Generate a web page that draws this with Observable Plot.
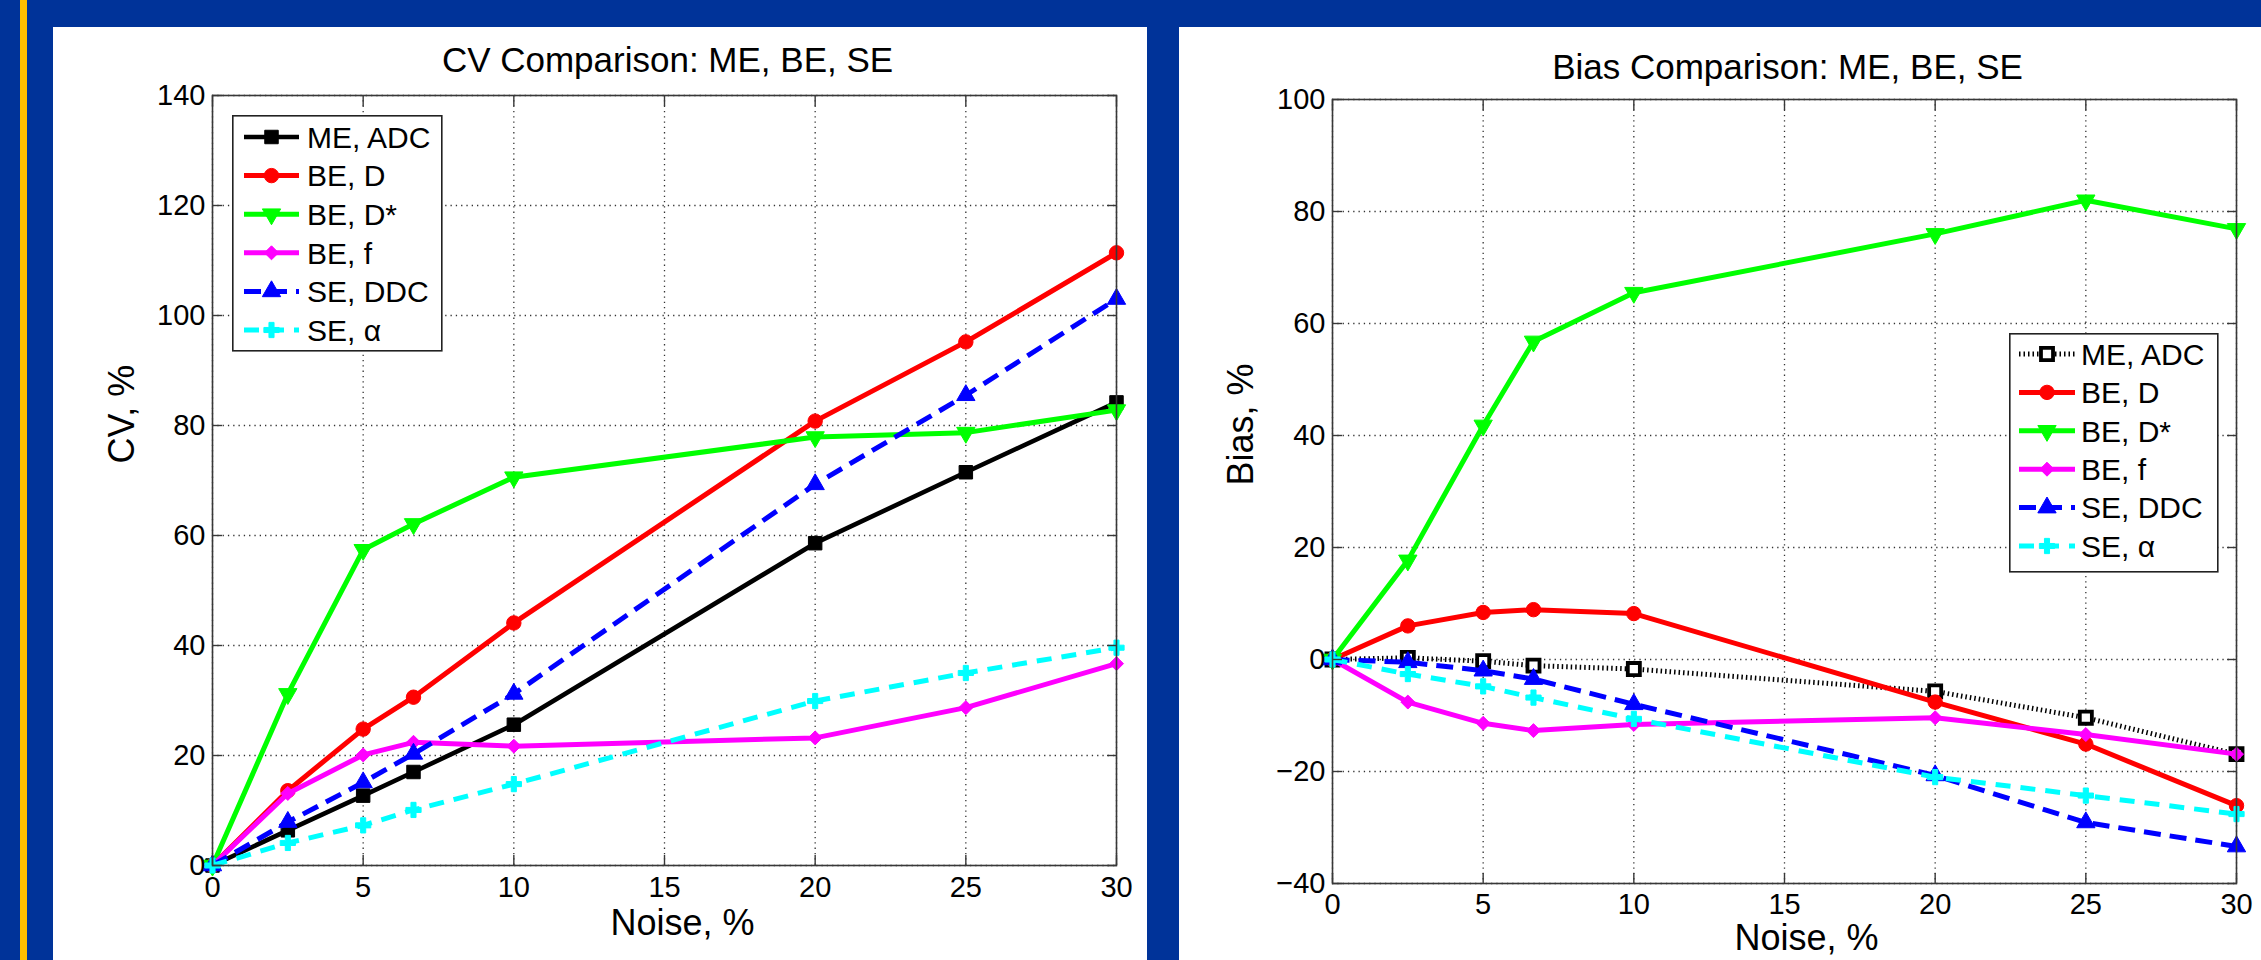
<!DOCTYPE html>
<html>
<head>
<meta charset="utf-8">
<script src="https://cdn.jsdelivr.net/npm/d3@7"></script>
<script src="https://cdn.jsdelivr.net/npm/@observablehq/plot@0.6"></script>
<style>
  html, body { margin: 0; padding: 0; background: #003399; }
  #page { position: relative; width: 2261px; height: 960px; background: #003399; overflow: hidden;
          font-family: "Liberation Sans", Arial, Helvetica, sans-serif; }
  .stripe { position: absolute; left: 20px; top: 0; width: 7px; height: 960px; background: #FFC000; }
  .panel { position: absolute; background: #ffffff; }
  .panel svg { position: absolute; left: 0; top: 0; }
  .legend { position: absolute; }
</style>
</head>
<body>
<div id="page">
  <div class="stripe"></div>
  <div class="panel" id="leftPanel" style="left:53px;top:27px;width:1094px;height:933px;"></div>
  <div class="panel" id="rightPanel" style="left:1179px;top:27px;width:1082px;height:933px;"></div>
</div>
<script>
// ---------------- data ----------------
const noise = [0, 2.5, 5, 6.67, 10, 20, 25, 30];
const seriesNames = ["ME, ADC", "BE, D", "BE, D*", "BE, f", "SE, DDC", "SE, α"];

// CV, %
const cvME      = [0, 6.4, 12.7, 17.0, 25.6, 58.6, 71.5, 84.2];
const cvBED     = [0, 13.6, 24.8, 30.6, 44.1, 80.8, 95.2, 111.4];
const cvBEDstar = [0, 31.2, 57.4, 62.1, 70.6, 77.9, 78.7, 82.8];
const cvBEf     = [0, 13.1, 20.1, 22.4, 21.7, 23.2, 28.7, 36.7];
const cvSEDDC   = [0, 7.9, 15.1, 20.3, 31.2, 69.3, 85.5, 103.0];
const cvSEalpha = [0, 4.1, 7.3, 10.1, 14.8, 29.9, 35.0, 39.6];

// Bias, %
const biasME      = [0, 0.3, -0.3, -1.1, -1.7, -5.7, -10.4, -16.9];
const biasBED     = [0, 6.0, 8.4, 8.9, 8.2, -7.6, -15.1, -26.1];
const biasBEDstar = [0, 17.7, 41.8, 56.8, 65.5, 76.0, 82.0, 76.9];
const biasBEf     = [0, -7.6, -11.4, -12.7, -11.6, -10.4, -13.4, -16.9];
const biasSEDDC   = [0, -0.5, -2.0, -3.5, -8.0, -20.7, -29.1, -33.4];
const biasSEalpha = [0, -2.6, -4.8, -6.8, -10.6, -21.0, -24.3, -27.6];

const xTicks = [0, 5, 10, 15, 20, 25, 30];
const cvTicks = [0, 20, 40, 60, 80, 100, 120, 140];
const biasTicks = [-40, -20, 0, 20, 40, 60, 80, 100];

// ---------------- styles ----------------
const FONT = '"Liberation Sans", Arial, Helvetica, sans-serif';
const stylesLeft = [
  {color: "#000000", width: 4.6, dash: null, symbol: "square", r: 7.6},
  {color: "#ff0000", width: 5, dash: null, symbol: "circle", r: 7.2},
  {color: "#00ff00", width: 5, dash: null, symbol: "triangle", r: 6.8, rotate: 180},
  {color: "#ff00ff", width: 5, dash: null, symbol: "diamond2", r: 6.3},
  {color: "#0000ff", width: 5, dash: "17,9", symbol: "triangle", r: 6.8},
  {color: "#00ffff", width: 5, dash: "15,10", symbol: "cross", r: 6.4}
];
const stylesRight = stylesLeft.map((s, i) => i === 0
  ? {color: "#000000", width: 5, dash: "1.5,3", symbol: "square", r: 6.8, fill: "#ffffff", mstroke: "#000000", msw: 3.8}
  : s);

const gridStyle = {stroke: "#000", strokeOpacity: 0.8, strokeWidth: 1.3, strokeDasharray: "1.3,4"};

function buildChart(cfg) {
  const marks = [
    Plot.gridX(xTicks, gridStyle),
    Plot.gridY(cfg.yTicks, gridStyle)
  ];
  cfg.values.forEach((vals, si) => {
    const st = cfg.styles[si];
    const d = vals.map((v, i) => ({x: noise[i], y: v}));
    marks.push(Plot.line(d, {x: "x", y: "y", stroke: st.color, strokeWidth: st.width,
      strokeDasharray: st.dash, strokeLinejoin: "round", strokeLinecap: "butt"}));
    marks.push(Plot.dot(d, {x: "x", y: "y", symbol: st.symbol, r: st.r,
      fill: st.fill || st.color, stroke: st.mstroke || st.color, strokeWidth: st.msw || 1,
      rotate: st.rotate || 0}));
  });
  marks.push(
    Plot.frame({stroke: "#383838", strokeWidth: 1.6}),
    Plot.axisX(xTicks, {anchor: "bottom", tickSize: 0, tickPadding: cfg.xPad, fontSize: 29, label: null, fill: "#000"}),
    Plot.axisY(cfg.yTicks, {anchor: "left", tickSize: 0, tickPadding: 7, fontSize: 29, label: null, fill: "#000"}),
    Plot.axisX(xTicks, {anchor: "bottom", tickSize: -10, fill: "none", label: null, stroke: "#383838", strokeWidth: 1.4}),
    Plot.axisX(xTicks, {anchor: "top", tickSize: -10, fill: "none", label: null, stroke: "#383838", strokeWidth: 1.4}),
    Plot.axisY(cfg.yTicks, {anchor: "left", tickSize: -10, fill: "none", label: null, stroke: "#383838", strokeWidth: 1.4}),
    Plot.axisY(cfg.yTicks, {anchor: "right", tickSize: -10, fill: "none", label: null, stroke: "#383838", strokeWidth: 1.4}),
    Plot.text([cfg.title], {text: d => d, frameAnchor: "top", dy: cfg.titleDy, dx: cfg.titleDx,
      fontSize: 35, lineAnchor: "middle", fill: "#000"}),
    Plot.text([cfg.xLabel], {text: d => d, frameAnchor: "bottom", dy: cfg.xLabelDy, dx: cfg.xLabelDx,
      fontSize: 36, lineAnchor: "middle", fill: "#000"}),
    Plot.text([cfg.yLabel], {text: d => d, frameAnchor: "left", dx: cfg.yLabelDx, dy: cfg.yLabelDy,
      rotate: -90, fontSize: 36, lineAnchor: "middle", fill: "#000"})
  );
  return Plot.plot({
    width: cfg.width, height: cfg.height,
    marginLeft: cfg.ml, marginRight: cfg.mr, marginTop: cfg.mt, marginBottom: cfg.mb,
    x: {type: "linear", domain: [0, 30]},
    y: {type: "linear", domain: cfg.yDomain},
    style: {fontFamily: FONT, fontSize: "29px", color: "#000", background: "transparent", overflow: "visible"},
    marks
  });
}

const symbolMap = {square: d3.symbolSquare, circle: d3.symbolCircle, triangle: d3.symbolTriangle,
  diamond2: d3.symbolDiamond2, cross: d3.symbolCross};

function buildLegend(parent, cfg) {
  const svg = d3.select(parent).append("svg")
    .attr("class", "legend")
    .style("left", cfg.left + "px").style("top", cfg.top + "px")
    .attr("width", cfg.w + 2).attr("height", cfg.h + 2)
    .style("position", "absolute").style("overflow", "visible");
  svg.append("rect").attr("x", 0.8).attr("y", 0.8).attr("width", cfg.w).attr("height", cfg.h)
    .attr("fill", "#fff").attr("stroke", "#222").attr("stroke-width", 1.6);
  seriesNames.forEach((name, i) => {
    const st = cfg.styles[i];
    const cy = cfg.row0 + i * cfg.rowStep;
    const g = svg.append("g").attr("transform", `translate(0,${cy})`);
    g.append("line").attr("x1", cfg.lx1).attr("x2", cfg.lx2).attr("y1", 0).attr("y2", 0)
      .attr("stroke", st.color).attr("stroke-width", st.width)
      .attr("stroke-dasharray", st.dash || null);
    g.append("path")
      .attr("d", d3.symbol(symbolMap[st.symbol], Math.PI * st.r * st.r)())
      .attr("transform", `translate(${(cfg.lx1 + cfg.lx2) / 2},0) rotate(${st.rotate || 0})`)
      .attr("fill", st.fill || st.color).attr("stroke", st.mstroke || st.color)
      .attr("stroke-width", st.msw || 1);
    g.append("text").attr("x", cfg.tx).attr("y", 0).attr("dy", "0.36em")
      .attr("font-family", FONT).attr("font-size", 30).attr("fill", "#000").text(name);
  });
}

// ---------------- left chart: CV ----------------
const leftPanel = document.getElementById("leftPanel");
leftPanel.appendChild(buildChart({
  width: 1094, height: 933, ml: 159, mr: 31, mt: 68, mb: 95,
  yDomain: [0, 140], yTicks: cvTicks,
  values: [cvME, cvBED, cvBEDstar, cvBEf, cvSEDDC, cvSEalpha],
  styles: stylesLeft,
  title: "CV Comparison: ME, BE, SE", titleDy: -35, titleDx: 3,
  xLabel: "Noise, %", xLabelDy: 58, xLabelDx: 18, xPad: 11,
  yLabel: "CV, %", yLabelDx: -90, yLabelDy: -17
}));
buildLegend(leftPanel, {left: 233 - 53 - 1, top: 116 - 27 - 1, w: 209, h: 235, styles: stylesLeft,
  row0: 22, rowStep: 38.6, lx1: 12, lx2: 67, tx: 75});

// ---------------- right chart: Bias ----------------
const rightPanel = document.getElementById("rightPanel");
rightPanel.appendChild(buildChart({
  width: 1082, height: 933, ml: 153, mr: 25, mt: 72, mb: 77,
  yDomain: [-40, 100], yTicks: biasTicks,
  values: [biasME, biasBED, biasBEDstar, biasBEf, biasSEDDC, biasSEalpha],
  styles: stylesRight,
  title: "Bias Comparison: ME, BE, SE", titleDy: -32, titleDx: 3,
  xLabel: "Noise, %", xLabelDy: 55, xLabelDx: 22, xPad: 10,
  yLabel: "Bias, %", yLabelDx: -91, yLabelDy: -6
}));
buildLegend(rightPanel, {left: 2010 - 1179 - 1, top: 334 - 27 - 1, w: 208, h: 238, styles: stylesRight,
  row0: 21, rowStep: 38.4, lx1: 10, lx2: 66, tx: 72});
</script>
</body>
</html>
